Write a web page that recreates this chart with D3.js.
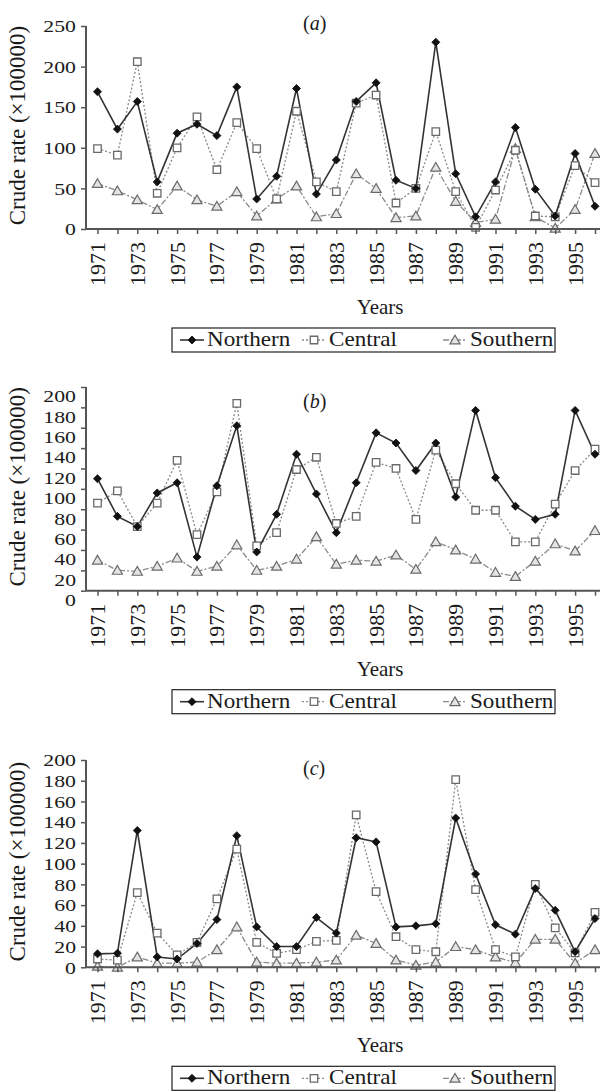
<!DOCTYPE html>
<html><head><meta charset="utf-8">
<script src="https://cdn.jsdelivr.net/npm/d3@7"></script>
<style>
body{margin:0;background:#fff}
svg{display:block}
text{font-family:"Liberation Serif","Times New Roman",serif;fill:#1a1a1a}
</style>
</head><body>
<svg id="chart" width="600" height="1092"></svg>
<script>
// ---- data ----
const years = [1971,1972,1973,1974,1975,1976,1977,1978,1979,1980,1981,1982,1983,1984,1985,1986,1987,1988,1989,1990,1991,1992,1993,1994,1995,1996];
const yearLabels = [1971,1973,1975,1977,1979,1981,1983,1985,1987,1989,1991,1993,1995];
const seriesNames = ["Northern","Central","Southern"];
const panelTitles = ["a","b","c"];

const aNorthern = [169,123,157,58,118,129,115,175,37,65,173,43,85,157,180,60,50,230,68,15,58,125,49,16,93,28];
const aCentral  = [99,91,206,44,100,138,73,131,99,37,145,58,46,155,165,32,50,120,46,2,48,97,16,15,78,57];
const aSouthern = [56,47,36,24,53,36,28,46,16,37,53,15,19,68,50,14,16,76,34,8,12,99,15,1,24,93];
const aTicks = [0,50,100,150,200,250];

const bNorthern = [110,73,63,96,106,33,103,162,38,75,134,95,57,106,155,145,118,145,92,177,111,83,70,75,177,134];
const bCentral  = [86,98,63,86,128,55,97,184,44,57,119,131,66,73,126,120,70,138,105,79,79,48,48,85,118,139];
const bSouthern = [30,20,19,24,32,19,24,45,20,24,31,53,26,30,29,35,21,48,40,31,18,14,29,46,39,59];
const bTicks = [0,20,40,60,80,100,120,140,160,180,200];

const cNorthern = [13,13.5,132,10,8,23,46,127,39,20,20,48,33,125,121,39,40,42,144,90,41,32,76,55,15,47];
const cCentral  = [8,7,72,33,12,24,66,114,24,13.5,17,25,26,147,73,29.5,17,15,181,75,17,10,80,38,14,53];
const cSouthern = [1,0,10,4,4,5,17,39,5,4,4,5,7,31,23,7,2,5,20,17,10,4.5,27,27,4,17];
const cTicks = [0,20,40,60,80,100,120,140,160,180,200];

// ---- layout ----
const svg = d3.select("#chart");
const axisX0 = 86, axisX1 = 600;
const x = d3.scaleLinear().domain([1971,1996]).range([97.5,595]);

const styles = {
  Northern:{stroke:"#333",dash:null,width:1.6,sym:"diamond"},
  Central:{stroke:"#8a8a8a",dash:"2,2",width:1.3,sym:"square"},
  Southern:{stroke:"#8a8a8a",dash:"6,2,2,2",width:1.3,sym:"triangle"}
};

function marker(g, type, cx, cy){
  if(type==="diamond"){
    g.append("path").attr("d", d3.symbol(d3.symbolSquare, 32)())
      .attr("transform",`translate(${cx},${cy}) rotate(45)`)
      .attr("fill","#111").attr("stroke","#111").attr("stroke-width",0.8);
  } else if(type==="square"){
    g.append("path").attr("d", d3.symbol(d3.symbolSquare, 56)())
      .attr("transform",`translate(${cx},${cy})`)
      .attr("fill","#fff").attr("stroke","#6a6a6a").attr("stroke-width",1.3);
  } else {
    g.append("path").attr("d", d3.symbol(d3.symbolTriangle, 44)())
      .attr("transform",`translate(${cx},${cy+1})`)
      .attr("fill","#e4e4e4").attr("stroke","#6a6a6a").attr("stroke-width",1.2);
  }
}

function drawPanel(cfg){
  const y = d3.scaleLinear().domain([0,cfg.max]).range([cfg.bottom,cfg.top]);
  const g = svg.append("g");

  // series lines + markers
  const data = {Northern:cfg.n, Central:cfg.c, Southern:cfg.s};
  ["Southern","Central","Northern"].forEach(name=>{
    const st = styles[name];
    const line = d3.line().x((d,i)=>x(years[i])).y(d=>y(d));
    g.append("path").datum(data[name]).attr("d",line)
      .attr("fill","none").attr("stroke",st.stroke).attr("stroke-width",st.width)
      .attr("stroke-dasharray",st.dash);
  });
  ["Southern","Central","Northern"].forEach(name=>{
    data[name].forEach((v,i)=>marker(g, styles[name].sym, x(years[i]), y(v)));
  });

  // y axis
  const ya = g.append("g").attr("transform",`translate(${axisX0},0)`)
    .call(d3.axisLeft(y).tickValues(cfg.ticks).tickSize(5).tickPadding(5).tickFormat(d3.format("d")));
  ya.select(".domain").remove();
  ya.selectAll(".tick line").attr("stroke","#555").attr("stroke-width",1.5);
  ya.selectAll(".tick text").attr("font-size",17).attr("font-family","Liberation Serif")
    .attr("fill","#1a1a1a").attr("x",0)
    .attr("transform",`translate(-10,${cfg.labelShift}) scale(1.28,1)`)
    .attr("dy","0.34em");
  g.append("line").attr("x1",axisX0).attr("x2",axisX0).attr("y1",cfg.top).attr("y2",cfg.bottom)
    .attr("stroke","#555").attr("stroke-width",2);

  // x axis
  const xa = g.append("g").attr("transform",`translate(0,${cfg.bottom})`)
    .call(d3.axisBottom(x).tickValues(years).tickSize(5).tickFormat(""));
  xa.select(".domain").remove();
  xa.selectAll(".tick line").attr("stroke","#555").attr("stroke-width",1.5);
  g.append("line").attr("x1",axisX0).attr("x2",axisX1).attr("y1",cfg.bottom).attr("y2",cfg.bottom)
    .attr("stroke","#555").attr("stroke-width",2);
  g.selectAll(".yl").data(yearLabels).enter().append("text")
    .attr("transform",d=>`translate(${x(d)},${cfg.bottom+13}) rotate(-90)`)
    .attr("text-anchor","end").attr("dy","0.34em").attr("font-size",22).text(d=>d);

  // axis titles
  g.append("text").attr("transform",`translate(${x(1985.2)},${cfg.bottom+85})`)
    .attr("text-anchor","middle").attr("font-size",21).text("Years");
  g.append("text").attr("transform",`translate(25,${(cfg.top+cfg.bottom)/2 - 2}) rotate(-90)`)
    .attr("text-anchor","middle").attr("font-size",23).text("Crude rate (\u00d7100000)");

  // panel label
  const t = g.append("text").attr("x",303).attr("y",cfg.titleY).attr("font-size",20);
  t.append("tspan").text("(");
  t.append("tspan").attr("font-style","italic").text(cfg.title);
  t.append("tspan").text(")");

  // legend
  const ly = cfg.bottom+99;
  const lg = g.append("g");
  lg.append("rect").attr("x",172).attr("y",ly).attr("width",383).attr("height",24)
    .attr("fill","#fff").attr("stroke","#222").attr("stroke-width",1.2);
  const lx = [180,302,443];
  seriesNames.forEach((name,i)=>{
    const st = styles[name];
    lg.append("line").attr("x1",lx[i]).attr("x2",lx[i]+24).attr("y1",ly+12).attr("y2",ly+12)
      .attr("stroke",st.stroke).attr("stroke-width",st.width).attr("stroke-dasharray",st.dash);
    marker(lg, st.sym, lx[i]+12, ly+12);
    lg.append("text").attr("transform",`translate(${lx[i]+27},${ly+18}) scale(1.1,1)`)
      .attr("font-size",21).text(name);
  });
}

drawPanel({title:panelTitles[0],n:aNorthern,c:aCentral,s:aSouthern,ticks:aTicks,max:250,top:26,bottom:229,labelShift:0,titleY:30});
drawPanel({title:panelTitles[1],n:bNorthern,c:bCentral,s:bSouthern,ticks:bTicks,max:200,top:387,bottom:590.7,labelShift:9,titleY:408});
drawPanel({title:panelTitles[2],n:cNorthern,c:cCentral,s:cSouthern,ticks:cTicks,max:200,top:760,bottom:967.3,labelShift:0,titleY:775});
</script>
</body></html>
